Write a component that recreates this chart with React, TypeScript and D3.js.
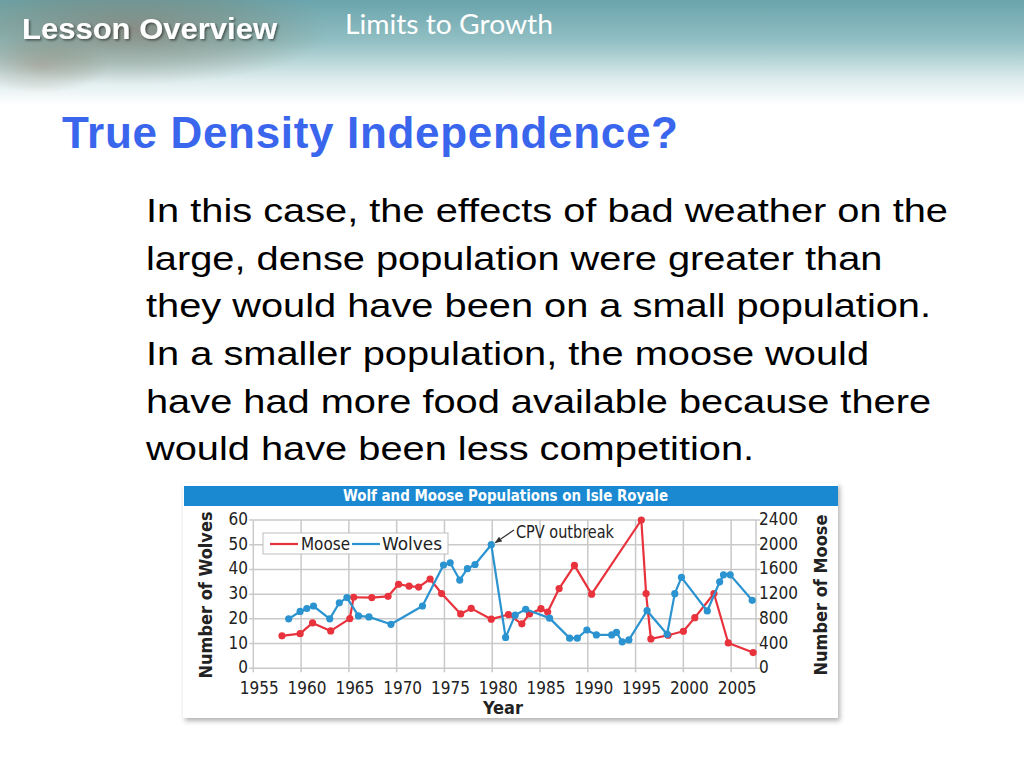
import React from "react";
import * as d3 from "d3";

// values
const wolfYears = [1958.7, 1959.9, 1960.6, 1961.3, 1963.0, 1964.0, 1964.8, 1966.0, 1967.1, 1969.4, 1972.7, 1974.9, 1975.6, 1976.6, 1977.4, 1978.2, 1979.9, 1981.4, 1982.4, 1983.5, 1986.0, 1988.1, 1988.9, 1989.9, 1990.9, 1992.5, 1993.0, 1993.6, 1994.3, 1996.2, 1998.3, 1999.1, 1999.8, 2002.5, 2003.8, 2004.2, 2004.9, 2007.2];
const wolfCounts = [20, 23, 24.2, 25.2, 20, 26.5, 28.6, 21.2, 20.8, 17.8, 25.2, 41.8, 42.7, 35.7, 40.3, 42, 50, 12.5, 21.5, 23.9, 20.3, 12.2, 12.2, 15.5, 13.5, 13.5, 14.5, 10.7, 11.5, 23.3, 13.8, 30.2, 36.8, 23.2, 35, 37.8, 37.8, 27.5];

const mooseYears = [1958.0, 1959.9, 1961.2, 1963.1, 1965.1, 1965.5, 1967.4, 1969.1, 1970.2, 1971.3, 1972.3, 1973.5, 1974.7, 1976.7, 1977.8, 1979.9, 1981.7, 1983.1, 1983.9, 1985.1, 1985.8, 1987.0, 1988.6, 1990.4, 1995.6, 1996.1, 1996.6, 1998.4, 2000.0, 2001.2, 2003.2, 2004.7, 2007.3];
const mooseCounts = [525, 560, 735, 605, 805, 1150, 1145, 1165, 1360, 1330, 1315, 1445, 1210, 880, 970, 795, 870, 720, 880, 965, 910, 1290, 1665, 1200, 2400, 1210, 475, 535, 600, 820, 1210, 410, 255];

const yearTicks = [1955, 1960, 1965, 1970, 1975, 1980, 1985, 1990, 1995, 2000, 2005];
const wolfTicks = [0, 10, 20, 30, 40, 50, 60];
const mooseTicks = [0, 400, 800, 1200, 1600, 2000, 2400];

const bodyLines = [
  "In this case, the effects of bad weather on the",
  "large, dense population were greater than",
  "they would have been on a small population.",
  "In a smaller population, the moose would",
  "have had more food available because there",
  "would have been less competition.",
];

const RED = "#e8323c";
const BLUE = "#2a93d0";
const GRID = "#c9c9c9";
const chartFont = "'Liberation Sans Narrow', 'DejaVu Sans Condensed', 'Arial Narrow', sans-serif";
const arial = "'Liberation Sans', Arial, sans-serif";

const x = d3.scaleLinear().domain([1955, 2007.6]).range([253.3, 756]);
const yW = d3.scaleLinear().domain([0, 60]).range([668.3, 520]);
const yM = d3.scaleLinear().domain([0, 2400]).range([668.3, 520]);

const wolves = wolfYears.map((yr, i) => ({ yr, v: wolfCounts[i] }));
const moose = mooseYears.map((yr, i) => ({ yr, v: mooseCounts[i] }));

const wolfLine = d3.line<{ yr: number; v: number }>().x(d => x(d.yr)).y(d => yW(d.v));
const mooseLine = d3.line<{ yr: number; v: number }>().x(d => x(d.yr)).y(d => yM(d.v));

export default function App() {
  const [x0, x1] = x.range();
  const [yb, yt] = yW.range();

  return (
    <div style={{ position: "absolute", left: 0, top: 0 }}>
      <svg width={1024} height={768} style={{ display: "block", background: "#fff" }}>
        <defs>
          <linearGradient id="hdr" x1="0" y1="0" x2="0" y2="1">
            <stop offset="0" stopColor="#6aa4ac" />
            <stop offset="0.4" stopColor="#93c0c4" />
            <stop offset="0.75" stopColor="#dcebec" />
            <stop offset="1" stopColor="#ffffff" />
          </linearGradient>
          <radialGradient id="leaf" cx="0.5" cy="0.5" r="0.5">
            <stop offset="0" stopColor="#8a6a58" stopOpacity="0.55" />
            <stop offset="0.6" stopColor="#7f7a62" stopOpacity="0.3" />
            <stop offset="1" stopColor="#7f7a62" stopOpacity="0" />
          </radialGradient>
          <filter id="shadow" x="-5%" y="-5%" width="110%" height="115%">
            <feDropShadow dx="2" dy="3" stdDeviation="2.5" floodColor="#000" floodOpacity="0.3" />
          </filter>
          <filter id="tshadow">
            <feDropShadow dx="1.5" dy="1.5" stdDeviation="1" floodColor="#000" floodOpacity="0.5" />
          </filter>
          <marker id="arrow" viewBox="0 0 10 10" refX="9" refY="5" markerWidth="6" markerHeight="6" orient="auto">
            <path d="M0,1 L10,5 L0,9 z" fill="#333" />
          </marker>
        </defs>

        {/* header */}
        <rect x={0} y={0} width={1024} height={105} fill="url(#hdr)" />
        <ellipse cx={130} cy={30} rx={200} ry={55} fill="url(#leaf)" />
        <ellipse cx={40} cy={65} rx={70} ry={28} fill="url(#leaf)" opacity={0.6} />
        <text x={22} y={39} fontFamily={arial} fontWeight="bold" fontSize={29} fill="#fff" filter="url(#tshadow)" textLength={255} lengthAdjust="spacingAndGlyphs">
          Lesson Overview
        </text>
        <text x={345} y={34} fontFamily="Lato, 'Open Sans', sans-serif" fontSize={27} fill="#fff" textLength={208} lengthAdjust="spacingAndGlyphs">
          Limits to Growth
        </text>

        {/* slide title + body */}
        <text x={62} y={148} fontFamily={arial} fontWeight="bold" fontSize={44} fill="#3a66ee" textLength={616}>
          True Density Independence?
        </text>
        <g transform="translate(146,0) scale(1.17,1)">
          {bodyLines.map((t, i) => (
            <text key={i} x={0} y={222 + i * 47.7} fontFamily={arial} fontSize={34} fill="#000">
              {t}
            </text>
          ))}
        </g>

        {/* chart panel */}
        <rect x={183} y={483} width={655} height={235} fill="#fff" filter="url(#shadow)" />
        <rect x={184} y={486} width={654} height={20} fill="#1a89d2" />
        <text x={343} y={501} fontFamily={chartFont} fontWeight="bold" fontSize={16} fill="#fff" textLength={325} lengthAdjust="spacingAndGlyphs">
          Wolf and  Moose Populations on Isle Royale
        </text>

        {/* grid */}
        {yearTicks.map(t => (
          <line key={"vx" + t} x1={x(t)} x2={x(t)} y1={yt} y2={yb + 4} stroke={GRID} strokeWidth={1.5} />
        ))}
        {wolfTicks.map(t => (
          <line key={"hy" + t} x1={x0 - 4} x2={x1 + 4} y1={yW(t)} y2={yW(t)} stroke={GRID} strokeWidth={1.5} />
        ))}
        <line x1={x1} x2={x1} y1={yt} y2={yb} stroke={GRID} strokeWidth={1.5} />

        {/* tick labels */}
        {yearTicks.map(t => (
          <text key={"lx" + t} x={x(t) + 6} y={694} textAnchor="middle" fontFamily={chartFont} fontSize={17} fill="#222">
            {t}
          </text>
        ))}
        {wolfTicks.map(t => (
          <text key={"lw" + t} x={248} y={yW(t) + 5} textAnchor="end" fontFamily={chartFont} fontSize={17} fill="#222">
            {t}
          </text>
        ))}
        {mooseTicks.map(t => (
          <text key={"lm" + t} x={759} y={yM(t) + 5} textAnchor="start" fontFamily={chartFont} fontSize={17} fill="#222">
            {t}
          </text>
        ))}

        {/* axis titles */}
        <text transform="translate(212,595) rotate(-90)" textAnchor="middle" fontFamily={chartFont} fontWeight="bold" fontSize={18} fill="#222">
          Number of Wolves
        </text>
        <text transform="translate(827,595) rotate(-90)" textAnchor="middle" fontFamily={chartFont} fontWeight="bold" fontSize={18} fill="#222">
          Number of Moose
        </text>
        <text x={503} y={714} textAnchor="middle" fontFamily={chartFont} fontWeight="bold" fontSize={18} fill="#222">
          Year
        </text>

        {/* series */}
        <path d={mooseLine(moose) || ""} fill="none" stroke={RED} strokeWidth={2.2} strokeLinejoin="round" />
        {moose.map((d, i) => (
          <circle key={"m" + i} cx={x(d.yr)} cy={yM(d.v)} r={3.6} fill={RED} />
        ))}
        <path d={wolfLine(wolves) || ""} fill="none" stroke={BLUE} strokeWidth={2.2} strokeLinejoin="round" />
        {wolves.map((d, i) => (
          <circle key={"w" + i} cx={x(d.yr)} cy={yW(d.v)} r={3.6} fill={BLUE} />
        ))}

        {/* legend */}
        <rect x={263} y={533} width={185} height={21} fill="#fff" stroke="#bdbdbd" strokeWidth={1} />
        <line x1={270} x2={298} y1={544} y2={544} stroke={RED} strokeWidth={2.2} />
        <text x={301} y={550} fontFamily={chartFont} fontSize={17} fill="#222" textLength={49} lengthAdjust="spacingAndGlyphs">Moose</text>
        <line x1={352} x2={380} y1={544} y2={544} stroke={BLUE} strokeWidth={2.2} />
        <text x={382} y={550} fontFamily={chartFont} fontSize={17} fill="#222" textLength={60} lengthAdjust="spacingAndGlyphs">Wolves</text>

        {/* annotation */}
        <line x1={514} y1={530} x2={x(1979.9) + 4} y2={yW(50) - 2} stroke="#333" strokeWidth={1.2} markerEnd="url(#arrow)" />
        <text x={516} y={538} fontFamily={chartFont} fontSize={17} fill="#222" textLength={98} lengthAdjust="spacingAndGlyphs">CPV outbreak</text>
      </svg>
    </div>
  );
}
